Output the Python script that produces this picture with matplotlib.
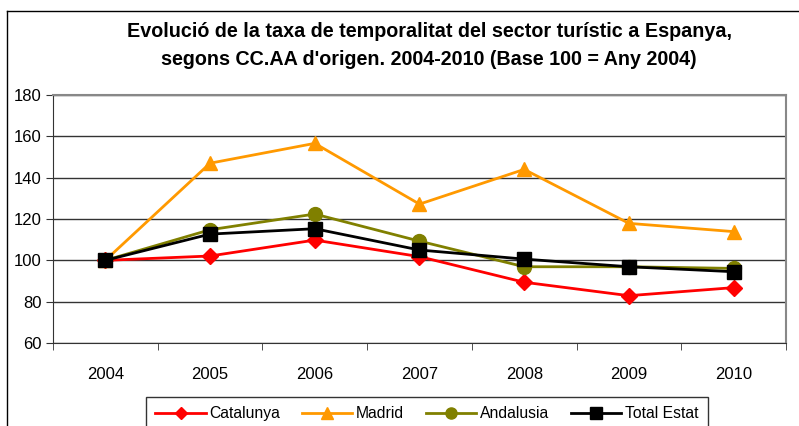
import matplotlib
matplotlib.use("Agg")
import matplotlib.pyplot as plt
from matplotlib.lines import Line2D
import numpy as np

plt.rcParams['font.family'] = ['Liberation Sans', 'DejaVu Sans']

years = ['2004', '2005', '2006', '2007', '2008', '2009', '2010']
catalunya = [100, 102.1, 109.8, 101.8, 89.4, 82.9, 86.8]
madrid = [100, 147.0, 156.6, 127.2, 144.0, 117.9, 113.9]
andalusia = [100, 114.8, 122.4, 109.3, 96.9, 96.9, 96.1]
total = [100, 112.7, 115.3, 105.0, 100.6, 96.9, 94.5]
yticks = [60, 80, 100, 120, 140, 160, 180]
title = "Evolució de la taxa de temporalitat del sector turístic a Espanya,\nsegons CC.AA d'origen. 2004-2010 (Base 100 = Any 2004)"

fig = plt.figure(figsize=(7.99, 4.26), dpi=100)
fig.patch.set_facecolor('white')
ax = fig.add_axes([0.0663, 0.1948, 0.9174, 0.5822])

x = np.arange(len(years))
ax.plot(x, catalunya, color='#ff0000', lw=2, marker='D', ms=8, label='Catalunya', zorder=3)
ax.plot(x, madrid, color='#ff9900', lw=2, marker='^', ms=10, label='Madrid', zorder=3)
ax.plot(x, andalusia, color='#808000', lw=2, marker='o', ms=10, label='Andalusia', zorder=3)
ax.plot(x, total, color='#000000', lw=2, marker='s', ms=10, label='Total Estat', zorder=4)

ax.set_xlim(-0.5, len(years) - 0.5)
ax.set_ylim(60, 180)
ax.set_yticks(yticks)
ax.set_yticklabels([str(v) for v in yticks], fontsize=12)
ax.set_xticks(x)
ax.set_xticklabels(years, fontsize=12)
ax.tick_params(axis='x', which='major', length=0, pad=17)
ax.set_xticks(np.arange(-0.5, len(years)), minor=True)
ax.tick_params(axis='x', which='minor', length=5, direction='out', color='#333333')
ax.tick_params(axis='y', length=5, direction='out', color='#333333', pad=3)
ax.yaxis.grid(True, color='#333333', lw=1)
ax.set_axisbelow(True)
for s in ['top', 'right']:
    ax.spines[s].set_color('#888888')
    ax.spines[s].set_linewidth(1.5)
for s in ['left', 'bottom']:
    ax.spines[s].set_color('#333333')

fig.text(0.537, 0.893, title, ha='center', va='center', fontsize=14.2, fontweight='bold', linespacing=1.55)

leg = fig.legend(loc='upper center', bbox_to_anchor=(0.5344, 0.069), ncol=4, frameon=True,
                 fontsize=11.3, handlelength=3.2, columnspacing=1.4, handletextpad=0.23,
                 borderpad=0.6, borderaxespad=0, fancybox=False, markerscale=0.8)
leg.get_frame().set_edgecolor('black')
leg.get_frame().set_linewidth(1)

fig.add_artist(Line2D([7 / 799, 1], [1 - 10.5 / 426, 1 - 10.5 / 426], transform=fig.transFigure,
                      color='black', lw=1))
fig.add_artist(Line2D([7 / 799, 7 / 799], [0, 1 - 10.5 / 426], transform=fig.transFigure,
                      color='black', lw=1))

fig.savefig('out.png', dpi=100)
